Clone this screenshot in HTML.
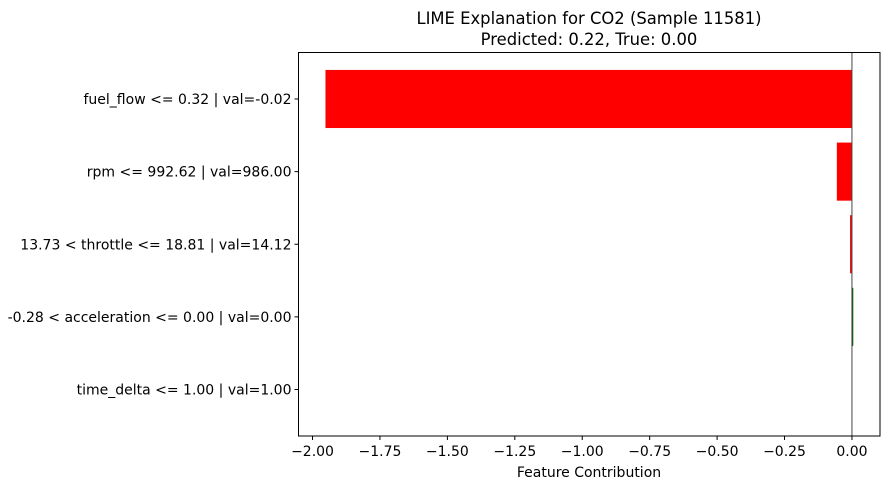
<!DOCTYPE html>
<html><head><meta charset="utf-8"><style>
body{margin:0;background:#fff;font-family:"DejaVu Sans","Liberation Sans",sans-serif;}
</style></head><body>
<svg id="chart" width="889" height="489" xmlns="http://www.w3.org/2000/svg" font-family="DejaVu Sans, Liberation Sans, sans-serif">
<text x="589" y="24" text-anchor="middle" font-size="16.4">LIME Explanation for CO2 (Sample 11581)</text>
<text x="589" y="45" text-anchor="middle" font-size="16.4">Predicted: 0.22, True: 0.00</text>
<g id="bars"></g>
<g id="xticks"></g>
<g id="ylabels"></g>
<rect x="298.5" y="52.5" width="581.5" height="383.5" fill="none" stroke="#000" stroke-width="1"/>
<text x="589" y="477" text-anchor="middle" font-size="14">Feature Contribution</text>
</svg>
<script>
const features = ["fuel_flow <= 0.32 | val=-0.02","rpm <= 992.62 | val=986.00","13.73 < throttle <= 18.81 | val=14.12","-0.28 < acceleration <= 0.00 | val=0.00","time_delta <= 1.00 | val=1.00"];
const contributions = [-1.952,-0.056,-0.007,0.005,0.0];
const xTickValues = [-2.0,-1.75,-1.5,-1.25,-1.0,-0.75,-0.5,-0.25,0.0];
const xTickLabels = ["−2.00","−1.75","−1.50","−1.25","−1.00","−0.75","−0.50","−0.25","0.00"];
const NS="http://www.w3.org/2000/svg";
const L=298.5,R=880,T=52.5,B=436;
const xmin=-2.052,xmax=0.104;
const x=v=>L+(v-xmin)/(xmax-xmin)*(R-L);
const n=features.length;
const ymin=-0.64,ymax=n-1+0.64;
const y=i=>T+(i-ymin)/(ymax-ymin)*(B-T);
const bandH=(B-T)/(ymax-ymin);
const bars=document.getElementById('bars');
contributions.forEach((v,i)=>{
  const r=document.createElementNS(NS,'rect');
  const x0=Math.min(x(0),x(v)),w=Math.abs(x(v)-x(0));
  r.setAttribute('x',x0);r.setAttribute('width',w);
  r.setAttribute('y',y(i)-0.4*bandH);r.setAttribute('height',0.8*bandH);
  r.setAttribute('fill',v<0?'#ff0000':'#006400');
  
  
  bars.appendChild(r);
});
const zl=document.createElementNS(NS,'line');
zl.setAttribute('x1',x(0));zl.setAttribute('x2',x(0));zl.setAttribute('y1',T);zl.setAttribute('y2',B);
zl.setAttribute('stroke','#444');zl.setAttribute('stroke-width','1');


bars.appendChild(zl);
const xt=document.getElementById('xticks');
xTickValues.forEach((v,i)=>{
  const l=document.createElementNS(NS,'line');
  l.setAttribute('x1',x(v));l.setAttribute('x2',x(v));l.setAttribute('y1',B);l.setAttribute('y2',B+4);l.setAttribute('stroke','#000');
  
  
  xt.appendChild(l);
  const t=document.createElementNS(NS,'text');
  t.setAttribute('x',x(v));t.setAttribute('y',B+20);t.setAttribute('text-anchor','middle');t.setAttribute('font-size','14');
  t.textContent=xTickLabels[i];
  
  
  xt.appendChild(t);
});
const yl=document.getElementById('ylabels');
features.forEach((f,i)=>{
  const l=document.createElementNS(NS,'line');
  l.setAttribute('x1',L-4);l.setAttribute('x2',L);l.setAttribute('y1',y(i));l.setAttribute('y2',y(i));l.setAttribute('stroke','#000');
  
  
  yl.appendChild(l);
  const t=document.createElementNS(NS,'text');
  t.setAttribute('x',L-7);t.setAttribute('y',y(i)+5);t.setAttribute('text-anchor','end');t.setAttribute('font-size','14');
  t.textContent=f;
  
  
  yl.appendChild(t);
});
</script>
</body></html>
